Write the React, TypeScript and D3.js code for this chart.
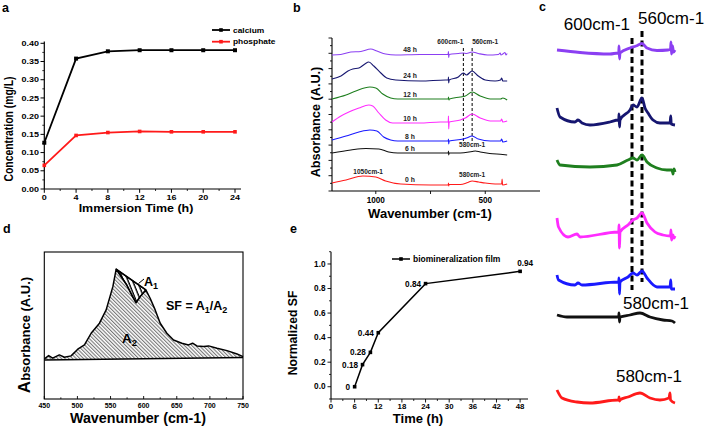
import React from 'react';
import * as d3 from 'd3';

const FONT = 'Liberation Sans, Arial, Helvetica, sans-serif';

// ---------- Panel a data ----------
const aTime = [0, 4, 8, 12, 16, 20, 24];
const aCalcium = [0.127, 0.358, 0.378, 0.381, 0.381, 0.381, 0.381];
const aPhosphate = [0.065, 0.147, 0.155, 0.158, 0.157, 0.157, 0.157];
const aXTicks = [0, 4, 8, 12, 16, 20, 24];
const aYTicks = [0, 0.05, 0.1, 0.15, 0.2, 0.25, 0.3, 0.35, 0.4];
const aLegend = ['calcium', 'phosphate'];

// ---------- Panel b data: [wavenumber, absorbance (A.U.)] ----------
const b48: [number, number][] = [[1200,136],[1160,136.5],[1114,139],[1068,139.5],[1023,142],[995,140],[955,137],[909,136],[800,136.5],[700,136.5],[670,136.5],[668,139.5],[667,133.5],[665,136.5],[623,137.5],[600,138],[586,137.5],[560,139],[532,137.5],[490,136],[440,136.5],[432,138],[428,136],[420,137],[410,138.5],[405,136],[400,137.5]];
const b24: [number, number][] = [[1200,112],[1159,115],[1127,120],[1105,122],[1077,123],[1050,127],[1032,129],[1009,125],[977,118],[950,113],[909,111],[795,110],[682,111],[669,111],[668,114],[667,108],[665,111],[623,114],[600,118],[586,116],[560,120],[532,115],[500,111],[455,110],[430,111],[425,113],[420,110],[400,110]];
const b12: [number, number][] = [[1200,92],[1136,96],[1091,100],[1027,104],[1000,103],[968,97],[932,93],[900,92],[700,92],[669,92],[668,94],[666,91],[664,92],[614,94],[591,95],[560,99],[523,95],[477,92],[430,92],[420,93],[400,91]];
const b10: [number, number][] = [[1200,69],[1159,75],[1123,79],[1077,83],[1032,86],[1014,85],[986,78],[955,71],[923,68],[800,68],[705,69],[669,69],[668,75],[667,62],[665,69],[614,71],[591,73],[560,77],[523,73],[477,70],[430,70],[425,72],[420,69],[400,70]];
const b8: [number, number][] = [[1200,51],[1136,55],[1077,59],[1027,61],[995,60],[964,54],[932,51],[900,50],[700,50],[669,50],[668,52],[667,47],[665,50],[600,52],[586,53],[560,55],[532,52],[477,50],[430,50],[425,52],[420,49],[400,50]];
const b6: [number, number][] = [[1200,38],[1114,41],[1045,42.5],[986,42],[941,39],[900,38],[700,38],[669,38],[668,40],[667,36],[665,38],[614,38],[560,39.5],[545,40],[523,39],[480,37.5],[420,36.5],[400,36]];
const b0: [number, number][] = [[1200,8],[1136,11],[1059,15],[1000,14],[955,10],[886,7],[750,6],[669,6],[668,8],[667,5],[665,6.5],[614,6.5],[580,8.5],[560,10],[530,9],[500,8],[455,7],[425,7],[423,12],[421,6],[400,7]];
const bSeries = [b48, b24, b12, b10, b8, b6, b0];
const bHours = ['48 h', '24 h', '12 h', '10 h', '8 h', '6 h', '0 h'];
const bColors = ['#8b3ff2', '#161670', '#1f7f1f', '#ff2cff', '#1a1aff', '#111111', '#ff1a1a'];
const bXTickLabels = [1000, 500];
const bXTicks = [1000, 750, 500];

// ---------- Panel c data ----------
const c48: [number, number][] = [[900,360],[808,357.5],[688,356],[656,357],[653,357],[652,364],[650,351],[648,357],[608,362],[584,364],[560,366.5],[540,362],[500,359.5],[456,360],[446,361],[444,368],[442,356],[438,364],[434,358],[428,360]];
const c24: [number, number][] = [[900,302],[888,293],[828,288],[816,290],[800,287],[768,285],[688,288],[656,290],[653,290],[652,296],[650,283],[648,290],[608,300],[596,305],[580,303],[560,312],[548,302],[536,297],[516,290],[488,287],[448,287],[445,294],[443,286],[428,285]];
const c12: [number, number][] = [[900,250],[888,245],[768,243],[660,245],[616,250],[596,252],[580,250],[560,255],[540,248],[500,242],[460,240],[440,240],[436,236],[432,241],[428,238]];
const c10: [number, number][] = [[900,192],[894,183],[856,173],[820,176],[808,173],[656,178],[653,178],[652,185],[650,162],[648,178],[616,185],[596,190],[580,192],[560,197],[540,187],[508,178],[476,175],[446,174],[444,180],[442,170],[436,175],[432,172],[428,174]];
const c8: [number, number][] = [[900,135],[894,130],[828,125],[816,127],[800,125],[656,128],[653,128],[652,132],[650,116],[648,128],[616,133],[596,137],[580,135],[560,139],[540,132],[500,123],[448,123],[445,130],[443,121],[432,121],[428,121]];
const c6: [number, number][] = [[900,95],[860,93],[808,93],[656,93],[653,93],[652,97],[650,88],[648,93],[608,95],[568,97],[528,93],[476,90],[440,89],[428,87]];
const c0: [number, number][] = [[900,20],[880,12],[820,8],[768,7],[656,10],[653,10],[652,13],[650,9],[648,10],[616,13],[568,17],[528,12],[488,10],[452,12],[448,17],[446,10],[428,7]];
const cSeries = [c48, c24, c12, c10, c8, c6, c0];

// ---------- Panel d data ----------
const dSpectrum: [number, number][] = [[450.1,0],[456.6,0.037],[462.6,0.008],[472.7,0.045],[480.3,0.019],[490.4,0.034],[500.5,0.109],[510.6,0.157],[520.7,0.288],[533.3,0.401],[543.4,0.55],[553.5,0.811],[558.5,1.007],[564.4,0.943],[574.5,0.83],[584.6,0.681],[588.6,0.631],[594.7,0.699],[603.3,0.774],[609.8,0.681],[617.4,0.55],[625,0.4],[635,0.288],[645.1,0.213],[657.7,0.176],[667.8,0.157],[673.9,0.176],[680.4,0.146],[690.5,0.138],[698.1,0.146],[710.7,0.12],[725.8,0.093],[741,0.056],[750,0.026]];
const dBaseline: [number, number][] = [[450, -0.011], [750, 0.015]];
const dChord: [number, number] = [558.5, 603.3];
const dXTicks = [450, 500, 550, 600, 650, 700, 750];

// ---------- Panel e data ----------
const eTime = [6, 8, 10, 12, 24, 48];
const eSF = [0, 0.18, 0.28, 0.44, 0.84, 0.94];
const eLabels = ['0', '0.18', '0.28', '0.44', '0.84', '0.94'];
const eXTicks = [0, 6, 12, 18, 24, 30, 36, 42, 48];
const eYTicks = [0, 0.2, 0.4, 0.6, 0.8, 1.0];

type TP = {
  x: number; y: number; size: number; sx?: number; rot?: number;
  anchor?: 'start' | 'middle' | 'end'; weight?: string; fill?: string; children?: React.ReactNode;
};
const T = ({ x, y, size, sx = 1, rot = 0, anchor = 'start', weight = 'bold', fill = '#000', children }: TP) => (
  <text
    transform={`translate(${x},${y}) scale(${sx},1)${rot ? ` rotate(${rot})` : ''}`}
    fontSize={size}
    textAnchor={anchor}
    fontWeight={weight}
    fill={fill}
    fontFamily={FONT}
  >
    {children}
  </text>
);

const PanelA = () => {
  const x = d3.scaleLinear().domain([0, 24]).range([44.3, 235]);
  const y = d3.scaleLinear().domain([0, 0.4]).range([189, 43.3]);
  const line = (vals: number[]) =>
    d3.line<number>().x((_, i) => x(aTime[i])).y((d) => y(d))(vals) || '';
  const minorX = d3.range(2, 24, 4);
  const minorY = d3.range(0.025, 0.4, 0.05);
  const S = 1.2;
  return (
    <g>
      <T x={2} y={12} size={12.5}>a</T>
      <line x1={44.3} x2={44.3} y1={41.5} y2={189} stroke="#000" strokeWidth={1.2} />
      <line x1={44.3} x2={241} y1={189} y2={189} stroke="#000" strokeWidth={1.2} />
      {aYTicks.map((t) => (
        <g key={t}>
          <line x1={40.5} x2={44.3} y1={y(t)} y2={y(t)} stroke="#000" strokeWidth={1} />
          <T x={39} y={y(t) + 2.7} size={7.5} sx={S} anchor="end">{t.toFixed(2)}</T>
        </g>
      ))}
      {minorY.map((t) => (
        <line key={t} x1={42.3} x2={44.3} y1={y(t)} y2={y(t)} stroke="#000" strokeWidth={0.8} />
      ))}
      {aXTicks.map((t) => (
        <g key={t}>
          <line x1={x(t)} x2={x(t)} y1={189} y2={192.8} stroke="#000" strokeWidth={1} />
          <T x={x(t)} y={199.5} size={7.5} sx={S} anchor="middle">{t}</T>
        </g>
      ))}
      {minorX.map((t) => (
        <line key={t} x1={x(t)} x2={x(t)} y1={189} y2={191} stroke="#000" strokeWidth={0.8} />
      ))}
      <path d={line(aCalcium)} fill="none" stroke="#000" strokeWidth={1.8} />
      <path d={line(aPhosphate)} fill="none" stroke="#ff1a1a" strokeWidth={1.8} />
      {aCalcium.map((v, i) => (
        <rect key={i} x={x(aTime[i]) - 2} y={y(v) - 2} width={4} height={4} fill="#000" />
      ))}
      {aPhosphate.map((v, i) => (
        <rect key={i} x={x(aTime[i]) - 1.8} y={y(v) - 1.8} width={3.6} height={3.6} fill="#ff1a1a" />
      ))}
      {aLegend.map((name, i) => {
        const ly = 30 + i * 11.7;
        const col = i === 0 ? '#000' : '#ff1a1a';
        return (
          <g key={name}>
            <line x1={212} x2={230} y1={ly} y2={ly} stroke={col} strokeWidth={1.8} />
            <rect x={219.2} y={ly - 1.8} width={3.6} height={3.6} fill={col} />
            <T x={233} y={ly + 2.6} size={7} sx={S} weight="bold">{name}</T>
          </g>
        );
      })}
      <T x={9} y={129} size={10.3} sx={S} rot={0} anchor="middle">
        <tspan />
      </T>
      <text
        transform={`translate(13,129) scale(${S},1) rotate(-90)`}
        fontSize={10.4}
        textAnchor="middle"
        fontWeight="bold"
        fontFamily={FONT}
      >
        Concentration (mg/L)
      </text>
      <T x={136} y={212} size={10.4} sx={S} anchor="middle">Immersion Time (h)</T>
    </g>
  );
};

const PanelB = () => {
  const x = d3.scaleLinear().domain([1200, 250]).range([332, 540]);
  const y = d3.scaleLinear().domain([0, 153]).range([191, 38]);
  const line = d3
    .line<[number, number]>()
    .x((d) => x(d[0]))
    .y((d) => y(d[1]))
    .curve(d3.curveMonotoneX);
  const yt = d3.range(0, 21).map((i) => (i * 153) / 20);
  const valueAt = (s: [number, number][], w: number) => {
    for (let i = 0; i < s.length - 1; i++) {
      if (s[i][0] >= w && s[i + 1][0] <= w) {
        const t = (s[i][0] - w) / (s[i][0] - s[i + 1][0]);
        return s[i][1] + t * (s[i + 1][1] - s[i][1]);
      }
    }
    return s[0][1];
  };
  return (
    <g>
      <T x={293} y={12} size={12.5}>b</T>
      <line x1={332} x2={332} y1={38} y2={191} stroke="#000" strokeWidth={1.1} />
      <line x1={332} x2={540} y1={191} y2={191} stroke="#000" strokeWidth={1.1} />
      {yt.map((v, i) => (
        <line key={i} x1={i % 2 === 0 ? 328.5 : 330} x2={332} y1={y(v)} y2={y(v)} stroke="#000" strokeWidth={0.9} />
      ))}
      {bXTicks.map((t) => (
        <line key={t} x1={x(t)} x2={x(t)} y1={191} y2={194} stroke="#000" strokeWidth={0.9} />
      ))}
      {bXTickLabels.map((t) => (
        <T key={t} x={x(t)} y={203} size={8.2} anchor="middle">{t}</T>
      ))}
      {[600, 560].map((w) => (
        <line key={w} x1={x(w)} x2={x(w)} y1={48} y2={143} stroke="#000" strokeWidth={1} strokeDasharray="3,2" />
      ))}
      {bSeries.map((s, i) => (
        <path key={i} d={line(s) || ''} fill="none" stroke={bColors[i]} strokeWidth={1.1} />
      ))}
      {bSeries.map((s, i) => (
        <T key={i} x={410} y={y(valueAt(s, 850)) - 2.5} size={6.8} anchor="middle" fill="#222">{bHours[i]}</T>
      ))}
      <T x={x(1035)} y={174} size={6.5} anchor="middle" fill="#222">1050cm-1</T>
      <T x={x(600)} y={44} size={6.5} anchor="end" fill="#222">600cm-1</T>
      <T x={x(560)} y={44} size={6.5} anchor="start" fill="#222">560cm-1</T>
      <T x={x(560)} y={147} size={6.5} anchor="middle" fill="#222">580cm-1</T>
      <T x={x(560)} y={177} size={6.5} anchor="middle" fill="#222">580cm-1</T>
      <text transform="translate(320,122) rotate(-90)" fontSize={12.7} textAnchor="middle" fontWeight="bold" fontFamily={FONT}>
        Absorbance (A.U.)
      </text>
      <T x={430} y={218} size={13} anchor="middle">Wavenumber (cm-1)</T>
    </g>
  );
};

const PanelC = () => {
  const x = d3.scaleLinear().domain([900, 428]).range([557, 675]);
  const y = d3.scaleLinear().domain([0, 400]).range([410, 10]);
  const line = d3
    .line<[number, number]>()
    .x((d) => x(d[0]))
    .y((d) => y(d[1]))
    .curve(d3.curveMonotoneX);
  return (
    <g>
      <T x={539} y={11} size={12.5}>c</T>
      <line x1={x(600)} x2={x(600)} y1={38} y2={290} stroke="#000" strokeWidth={3} strokeDasharray="6,3.5" />
      <line x1={x(560)} x2={x(560)} y1={31} y2={282} stroke="#000" strokeWidth={3} strokeDasharray="6,3.5" />
      {cSeries.map((s, i) => (
        <path key={i} d={line(s) || ''} fill="none" stroke={bColors[i]} strokeWidth={2.8} strokeLinejoin="round" />
      ))}
      <T x={x(600) - 2} y={30} size={17} weight="normal" anchor="end">600cm-1</T>
      <T x={x(560) - 4} y={24} size={17} weight="normal" anchor="start">560cm-1</T>
      <T x={x(560) + 14} y={309} size={17} weight="normal" anchor="middle">580cm-1</T>
      <T x={x(560) + 7} y={382} size={17} weight="normal" anchor="middle">580cm-1</T>
    </g>
  );
};

const PanelD = () => {
  const x = d3.scaleLinear().domain([450, 750]).range([44.3, 243]);
  const y = d3.scaleLinear().domain([-0.45, 1.2]).range([399, 252]);
  const base = d3.scaleLinear().domain([dBaseline[0][0], dBaseline[1][0]]).range([dBaseline[0][1], dBaseline[1][1]]);
  const area = d3
    .area<[number, number]>()
    .x((d) => x(d[0]))
    .y0((d) => y(base(d[0])))
    .y1((d) => y(d[1]));
  const line = d3.line<[number, number]>().x((d) => x(d[0])).y((d) => y(d[1]));
  const a1pts = dSpectrum.filter((d) => d[0] >= dChord[0] && d[0] <= dChord[1]);
  const a1Path = (line(a1pts) || '') + 'Z';
  const p0 = a1pts[0];
  const p1 = a1pts[a1pts.length - 1];
  const minor = d3.range(475, 750, 50);
  return (
    <g>
      <defs>
        <pattern id="hatchA2" patternUnits="userSpaceOnUse" width={2.6} height={2.6} patternTransform="rotate(-45)">
          <line x1={0.6} y1={0} x2={0.6} y2={2.6} stroke="#5a5a5a" strokeWidth={0.9} />
        </pattern>
        <pattern id="hatchA1" patternUnits="userSpaceOnUse" width={4.2} height={4.2} patternTransform="rotate(-22)">
          <line x1={1} y1={0} x2={1} y2={4.2} stroke="#000" strokeWidth={1.4} />
        </pattern>
      </defs>
      <T x={3} y={233} size={12.5}>d</T>
      <path d={area(dSpectrum) || ''} fill="url(#hatchA2)" stroke="none" />
      <path d={a1Path} fill="url(#hatchA1)" stroke="#000" strokeWidth={1.3} strokeLinejoin="round" />
      <path d={line(dSpectrum) || ''} fill="none" stroke="#000" strokeWidth={1.5} strokeLinejoin="round" />
      <line x1={x(p0[0])} y1={y(p0[1])} x2={x(p1[0])} y2={y(p1[1])} stroke="#000" strokeWidth={1.5} />
      <line x1={x(dBaseline[0][0])} y1={y(dBaseline[0][1])} x2={x(dBaseline[1][0])} y2={y(dBaseline[1][1])} stroke="#000" strokeWidth={1.5} />
      <rect x={44.3} y={252} width={198.7} height={147} fill="none" stroke="#000" strokeWidth={1.1} />
      {dXTicks.map((t) => (
        <g key={t}>
          <line x1={x(t)} x2={x(t)} y1={399} y2={396} stroke="#000" strokeWidth={0.9} />
          <T x={x(t)} y={408} size={7} anchor="middle">{t}</T>
        </g>
      ))}
      {minor.map((t) => (
        <line key={t} x1={x(t)} x2={x(t)} y1={399} y2={397.3} stroke="#000" strokeWidth={0.8} />
      ))}
      <line x1={138.5} y1={283.5} x2={144} y2={279} stroke="#000" strokeWidth={1} />
      <text x={144} y={286} fontSize={12.5} fontWeight="bold" fontFamily={FONT}>
        A<tspan fontSize={9} dy={3}>1</tspan>
      </text>
      <text x={166} y={310} fontSize={12.5} fontWeight="bold" fontFamily={FONT}>
        SF = A<tspan fontSize={9} dy={3}>1</tspan>
        <tspan dy={-3}>/A</tspan>
        <tspan fontSize={9} dy={3}>2</tspan>
      </text>
      <text x={122} y={343} fontSize={13.5} fontWeight="bold" fontFamily={FONT}>
        A<tspan fontSize={9.5} dy={3}>2</tspan>
      </text>
      <text transform="translate(30,335) rotate(-90)" fontSize={13} textAnchor="middle" fontWeight="bold" fontFamily={FONT}>
        <tspan fontSize={17}>A</tspan>bsorbance (A.U.)
      </text>
      <T x={138} y={423} size={14.3} anchor="middle">Wavenumber (cm-1)</T>
    </g>
  );
};

const PanelE = () => {
  const x = d3.scaleLinear().domain([0, 50]).range([331, 528]);
  const y = d3.scaleLinear().domain([-0.1, 1.1]).range([399, 251.7]);
  const line = d3.line<number>().x((_, i) => x(eTime[i])).y((d) => y(d));
  const minorX = d3.range(3, 50, 6);
  const minorY = [-0.1, 0.1, 0.3, 0.5, 0.7, 0.9, 1.1];
  return (
    <g>
      <T x={290} y={233} size={12.5}>e</T>
      <line x1={331} x2={331} y1={251.7} y2={399} stroke="#000" strokeWidth={1.1} />
      <line x1={331} x2={528} y1={399} y2={399} stroke="#000" strokeWidth={1.1} />
      {eYTicks.map((t) => (
        <g key={t}>
          <line x1={327.5} x2={331} y1={y(t)} y2={y(t)} stroke="#000" strokeWidth={0.9} />
          <T x={325.5} y={y(t) + 2.7} size={8.2} anchor="end">{t.toFixed(1)}</T>
        </g>
      ))}
      {minorY.map((t) => (
        <line key={t} x1={329} x2={331} y1={y(t)} y2={y(t)} stroke="#000" strokeWidth={0.8} />
      ))}
      {eXTicks.map((t) => (
        <g key={t}>
          <line x1={x(t)} x2={x(t)} y1={399} y2={402.5} stroke="#000" strokeWidth={0.9} />
          <T x={x(t)} y={408.5} size={7.8} anchor="middle">{t}</T>
        </g>
      ))}
      {minorX.map((t) => (
        <line key={t} x1={x(t)} x2={x(t)} y1={399} y2={401} stroke="#000" strokeWidth={0.8} />
      ))}
      <path d={line(eSF) || ''} fill="none" stroke="#000" strokeWidth={1.5} />
      {eSF.map((v, i) => (
        <rect key={i} x={x(eTime[i]) - 1.8} y={y(v) - 1.8} width={3.6} height={3.6} fill="#000" />
      ))}
      {eLabels.map((lab, i) =>
        i === eLabels.length - 1 ? (
          <T key={i} x={x(eTime[i]) + 5} y={y(eSF[i]) - 5} size={8.2} anchor="middle">{lab}</T>
        ) : (
          <T key={i} x={x(eTime[i]) - 4.5} y={y(eSF[i]) + 3} size={8.2} anchor="end">{lab}</T>
        )
      )}
      <line x1={392} x2={410} y1={259} y2={259} stroke="#000" strokeWidth={1.5} />
      <rect x={399.2} y={257.2} width={3.6} height={3.6} fill="#000" />
      <T x={413} y={262} size={8.5}>biomineralization film</T>
      <text transform="translate(297,333) rotate(-90)" fontSize={12.2} textAnchor="middle" fontWeight="bold" fontFamily={FONT}>
        Normalized SF
      </text>
      <T x={418} y={423} size={13} anchor="middle">Time (h)</T>
    </g>
  );
};

export default function App() {
  return (
    <svg
      width={708}
      height={429}
      viewBox="0 0 708 429"
      style={{ position: 'absolute', left: 0, top: 0, background: '#fff' }}
    >
      <rect x={0} y={0} width={708} height={429} fill="#fff" />
      <PanelA />
      <PanelB />
      <PanelC />
      <PanelD />
      <PanelE />
    </svg>
  );
}
